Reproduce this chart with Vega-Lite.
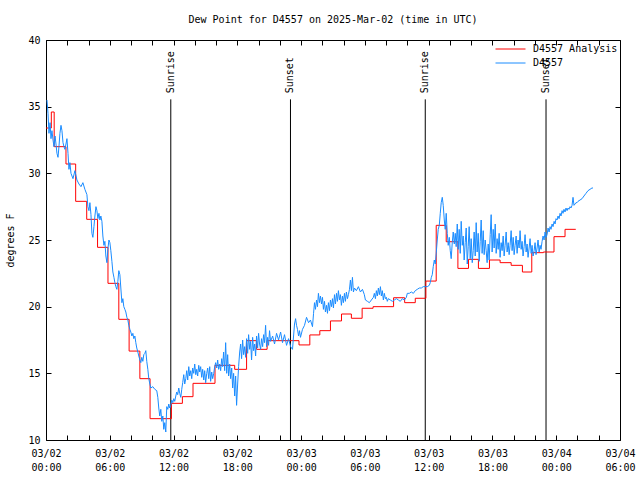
{
  "$schema": "https://vega.github.io/schema/vega-lite/v6.json",
  "width": 574,
  "height": 400,
  "autosize": {"type": "none"},
  "padding": {"left": 46, "top": 40, "right": 20, "bottom": 40},
  "background": "white",
  "title": {"text": "Dew Point for D4557 on 2025-Mar-02 (time in UTC)", "font": "DejaVu Sans Mono", "fontSize": 10, "fontWeight": "normal", "anchor": "middle", "offset": 10, "color": "black"},
  "config": {
    "view": {"stroke": "black", "strokeWidth": 1},
    "axis": {"grid": false, "domain": false, "ticks": true, "tickColor": "black", "tickSize": 5, "tickWidth": 1, "offset": -5, "zindex": 1, "labelFont": "DejaVu Sans Mono", "labelFontSize": 10, "labelColor": "black", "titleFont": "DejaVu Sans Mono", "titleFontSize": 10, "titleFontWeight": "normal", "titleColor": "black", "labelOverlap": false, "labelFlush": false},
    "legend": {"labelFont": "DejaVu Sans Mono", "labelFontSize": 10, "labelColor": "black"}
  },
  "datasets": {
    "analysis": [
      {"hour": 0.0, "dwpf": 33.4}, {"hour": 0.5, "dwpf": 34.6}, {"hour": 0.77, "dwpf": 32.0}, {"hour": 1.88, "dwpf": 30.7},
      {"hour": 2.79, "dwpf": 27.9}, {"hour": 3.83, "dwpf": 26.55}, {"hour": 4.85, "dwpf": 24.45}, {"hour": 5.83, "dwpf": 21.75},
      {"hour": 6.85, "dwpf": 19.05}, {"hour": 7.82, "dwpf": 16.67}, {"hour": 8.83, "dwpf": 14.6}, {"hour": 9.79, "dwpf": 11.6},
      {"hour": 11.8, "dwpf": 12.75}, {"hour": 12.83, "dwpf": 13.25}, {"hour": 13.83, "dwpf": 14.25}, {"hour": 15.9, "dwpf": 15.6},
      {"hour": 17.75, "dwpf": 15.3}, {"hour": 18.87, "dwpf": 17.45}, {"hour": 19.81, "dwpf": 16.8}, {"hour": 20.8, "dwpf": 17.45},
      {"hour": 23.8, "dwpf": 17.13}, {"hour": 24.82, "dwpf": 17.88}, {"hour": 25.76, "dwpf": 18.2}, {"hour": 26.76, "dwpf": 18.93},
      {"hour": 27.8, "dwpf": 19.45}, {"hour": 28.73, "dwpf": 19.13}, {"hour": 29.74, "dwpf": 19.88}, {"hour": 30.77, "dwpf": 20.0},
      {"hour": 32.7, "dwpf": 20.67}, {"hour": 33.74, "dwpf": 20.3}, {"hour": 34.74, "dwpf": 20.63}, {"hour": 35.74, "dwpf": 21.92},
      {"hour": 36.71, "dwpf": 26.1}, {"hour": 37.65, "dwpf": 24.87}, {"hour": 38.75, "dwpf": 22.87}, {"hour": 39.75, "dwpf": 23.55},
      {"hour": 40.68, "dwpf": 22.87}, {"hour": 41.72, "dwpf": 23.5}, {"hour": 42.72, "dwpf": 23.3}, {"hour": 43.76, "dwpf": 23.1},
      {"hour": 44.82, "dwpf": 22.6}, {"hour": 45.7, "dwpf": 24.05}, {"hour": 46.79, "dwpf": 24.1}, {"hour": 47.79, "dwpf": 25.25},
      {"hour": 48.83, "dwpf": 25.8}, {"hour": 49.84, "dwpf": 25.8}
    ],
    "obs": [
      {"hour": 0.09, "dwpf": 35.5}, {"hour": 0.19, "dwpf": 34.5}, {"hour": 0.28, "dwpf": 33.0}, {"hour": 0.38, "dwpf": 33.8},
      {"hour": 0.47, "dwpf": 32.6}, {"hour": 0.56, "dwpf": 33.2}, {"hour": 0.66, "dwpf": 32.5}, {"hour": 0.75, "dwpf": 32.0},
      {"hour": 0.85, "dwpf": 32.8}, {"hour": 0.94, "dwpf": 32.2}, {"hour": 1.03, "dwpf": 31.5}, {"hour": 1.13, "dwpf": 31.2},
      {"hour": 1.22, "dwpf": 32.0}, {"hour": 1.31, "dwpf": 33.0}, {"hour": 1.41, "dwpf": 33.6}, {"hour": 1.5, "dwpf": 33.2},
      {"hour": 1.6, "dwpf": 32.3}, {"hour": 1.69, "dwpf": 32.0}, {"hour": 1.78, "dwpf": 31.8}, {"hour": 1.88, "dwpf": 32.2},
      {"hour": 1.97, "dwpf": 32.6}, {"hour": 2.07, "dwpf": 31.5}, {"hour": 2.16, "dwpf": 30.3}, {"hour": 2.25, "dwpf": 30.8},
      {"hour": 2.35, "dwpf": 30.0}, {"hour": 2.54, "dwpf": 29.6}, {"hour": 2.72, "dwpf": 30.2}, {"hour": 2.91, "dwpf": 29.5},
      {"hour": 3.1, "dwpf": 29.2}, {"hour": 3.29, "dwpf": 29.0}, {"hour": 3.47, "dwpf": 29.3}, {"hour": 3.66, "dwpf": 28.8},
      {"hour": 3.85, "dwpf": 28.4}, {"hour": 3.94, "dwpf": 27.5}, {"hour": 4.04, "dwpf": 27.2}, {"hour": 4.13, "dwpf": 27.8},
      {"hour": 4.23, "dwpf": 26.9}, {"hour": 4.32, "dwpf": 25.5}, {"hour": 4.41, "dwpf": 25.2}, {"hour": 4.51, "dwpf": 26.0},
      {"hour": 4.6, "dwpf": 26.8}, {"hour": 4.7, "dwpf": 27.5}, {"hour": 4.79, "dwpf": 27.2}, {"hour": 4.88, "dwpf": 26.6},
      {"hour": 4.98, "dwpf": 27.0}, {"hour": 5.07, "dwpf": 26.5}, {"hour": 5.16, "dwpf": 26.8}, {"hour": 5.26, "dwpf": 26.4},
      {"hour": 5.35, "dwpf": 25.3}, {"hour": 5.45, "dwpf": 24.6}, {"hour": 5.54, "dwpf": 24.9}, {"hour": 5.63, "dwpf": 23.8},
      {"hour": 5.73, "dwpf": 23.3}, {"hour": 5.82, "dwpf": 24.3}, {"hour": 5.92, "dwpf": 25.0}, {"hour": 6.01, "dwpf": 24.8},
      {"hour": 6.1, "dwpf": 24.2}, {"hour": 6.2, "dwpf": 23.4}, {"hour": 6.29, "dwpf": 22.6}, {"hour": 6.39, "dwpf": 22.2},
      {"hour": 6.48, "dwpf": 21.8}, {"hour": 6.57, "dwpf": 21.5}, {"hour": 6.67, "dwpf": 21.3}, {"hour": 6.76, "dwpf": 21.9},
      {"hour": 6.85, "dwpf": 22.7}, {"hour": 6.95, "dwpf": 22.4}, {"hour": 7.04, "dwpf": 21.4}, {"hour": 7.14, "dwpf": 20.3},
      {"hour": 7.23, "dwpf": 20.6}, {"hour": 7.32, "dwpf": 20.0}, {"hour": 7.42, "dwpf": 19.8}, {"hour": 7.51, "dwpf": 19.6},
      {"hour": 7.61, "dwpf": 19.2}, {"hour": 7.7, "dwpf": 19.0}, {"hour": 7.79, "dwpf": 18.6}, {"hour": 7.89, "dwpf": 18.3},
      {"hour": 7.98, "dwpf": 18.1}, {"hour": 8.08, "dwpf": 17.8}, {"hour": 8.17, "dwpf": 18.0}, {"hour": 8.26, "dwpf": 17.6},
      {"hour": 8.36, "dwpf": 17.8}, {"hour": 8.45, "dwpf": 17.3}, {"hour": 8.54, "dwpf": 16.9}, {"hour": 8.64, "dwpf": 16.6},
      {"hour": 8.73, "dwpf": 16.3}, {"hour": 8.83, "dwpf": 16.0}, {"hour": 8.92, "dwpf": 15.8}, {"hour": 9.01, "dwpf": 16.2},
      {"hour": 9.11, "dwpf": 15.9}, {"hour": 9.2, "dwpf": 16.4}, {"hour": 9.3, "dwpf": 16.5}, {"hour": 9.39, "dwpf": 16.7},
      {"hour": 9.48, "dwpf": 15.9}, {"hour": 9.58, "dwpf": 15.3}, {"hour": 9.67, "dwpf": 14.6}, {"hour": 9.77, "dwpf": 14.2},
      {"hour": 9.86, "dwpf": 13.9}, {"hour": 10.05, "dwpf": 14.0}, {"hour": 10.24, "dwpf": 13.8}, {"hour": 10.42, "dwpf": 13.7},
      {"hour": 10.52, "dwpf": 13.2}, {"hour": 10.61, "dwpf": 12.4}, {"hour": 10.7, "dwpf": 11.8}, {"hour": 10.8, "dwpf": 12.3},
      {"hour": 10.89, "dwpf": 11.4}, {"hour": 10.99, "dwpf": 11.8}, {"hour": 11.08, "dwpf": 10.8}, {"hour": 11.17, "dwpf": 11.3},
      {"hour": 11.27, "dwpf": 10.6}, {"hour": 11.36, "dwpf": 12.5}, {"hour": 11.46, "dwpf": 12.3}, {"hour": 11.55, "dwpf": 12.7},
      {"hour": 11.64, "dwpf": 12.4}, {"hour": 11.74, "dwpf": 12.6}, {"hour": 11.83, "dwpf": 13.0}, {"hour": 11.93, "dwpf": 12.8},
      {"hour": 12.02, "dwpf": 13.1}, {"hour": 12.11, "dwpf": 12.9}, {"hour": 12.21, "dwpf": 13.3}, {"hour": 12.3, "dwpf": 13.6},
      {"hour": 12.39, "dwpf": 13.4}, {"hour": 12.49, "dwpf": 13.9}, {"hour": 12.58, "dwpf": 13.5}, {"hour": 12.68, "dwpf": 13.2},
      {"hour": 12.77, "dwpf": 13.8}, {"hour": 12.86, "dwpf": 14.3}, {"hour": 12.96, "dwpf": 14.9}, {"hour": 13.05, "dwpf": 14.2},
      {"hour": 13.15, "dwpf": 14.6}, {"hour": 13.24, "dwpf": 15.2}, {"hour": 13.33, "dwpf": 14.5}, {"hour": 13.43, "dwpf": 15.5},
      {"hour": 13.52, "dwpf": 14.8}, {"hour": 13.62, "dwpf": 15.2}, {"hour": 13.71, "dwpf": 14.6}, {"hour": 13.8, "dwpf": 15.4},
      {"hour": 13.9, "dwpf": 15.0}, {"hour": 13.99, "dwpf": 15.7}, {"hour": 14.09, "dwpf": 14.9}, {"hour": 14.18, "dwpf": 15.3},
      {"hour": 14.27, "dwpf": 14.8}, {"hour": 14.37, "dwpf": 15.6}, {"hour": 14.46, "dwpf": 15.1}, {"hour": 14.55, "dwpf": 15.5},
      {"hour": 14.65, "dwpf": 14.7}, {"hour": 14.74, "dwpf": 15.3}, {"hour": 14.84, "dwpf": 14.5}, {"hour": 14.93, "dwpf": 15.2},
      {"hour": 15.02, "dwpf": 14.3}, {"hour": 15.12, "dwpf": 15.0}, {"hour": 15.21, "dwpf": 15.4}, {"hour": 15.31, "dwpf": 14.6},
      {"hour": 15.4, "dwpf": 15.5}, {"hour": 15.49, "dwpf": 14.4}, {"hour": 15.59, "dwpf": 15.1}, {"hour": 15.68, "dwpf": 14.6},
      {"hour": 15.78, "dwpf": 15.0}, {"hour": 15.87, "dwpf": 15.5}, {"hour": 15.96, "dwpf": 15.8}, {"hour": 16.06, "dwpf": 15.4},
      {"hour": 16.15, "dwpf": 16.0}, {"hour": 16.24, "dwpf": 15.3}, {"hour": 16.34, "dwpf": 15.7}, {"hour": 16.43, "dwpf": 15.2},
      {"hour": 16.53, "dwpf": 16.1}, {"hour": 16.62, "dwpf": 15.5}, {"hour": 16.71, "dwpf": 16.6}, {"hour": 16.81, "dwpf": 15.2},
      {"hour": 16.9, "dwpf": 17.3}, {"hour": 17.0, "dwpf": 15.0}, {"hour": 17.09, "dwpf": 16.4}, {"hour": 17.18, "dwpf": 14.8},
      {"hour": 17.28, "dwpf": 15.7}, {"hour": 17.37, "dwpf": 14.6}, {"hour": 17.47, "dwpf": 15.4}, {"hour": 17.56, "dwpf": 13.9},
      {"hour": 17.65, "dwpf": 15.0}, {"hour": 17.75, "dwpf": 13.3}, {"hour": 17.84, "dwpf": 14.8}, {"hour": 17.93, "dwpf": 12.6},
      {"hour": 18.03, "dwpf": 14.2}, {"hour": 18.12, "dwpf": 15.5}, {"hour": 18.22, "dwpf": 16.6}, {"hour": 18.31, "dwpf": 17.2},
      {"hour": 18.4, "dwpf": 16.1}, {"hour": 18.5, "dwpf": 17.5}, {"hour": 18.59, "dwpf": 16.4}, {"hour": 18.69, "dwpf": 17.0},
      {"hour": 18.78, "dwpf": 16.2}, {"hour": 18.87, "dwpf": 17.6}, {"hour": 18.97, "dwpf": 16.5}, {"hour": 19.06, "dwpf": 17.9},
      {"hour": 19.16, "dwpf": 16.8}, {"hour": 19.25, "dwpf": 17.4}, {"hour": 19.34, "dwpf": 16.0}, {"hour": 19.44, "dwpf": 17.7},
      {"hour": 19.53, "dwpf": 16.7}, {"hour": 19.63, "dwpf": 17.2}, {"hour": 19.72, "dwpf": 16.3}, {"hour": 19.81, "dwpf": 17.8},
      {"hour": 19.91, "dwpf": 16.9}, {"hour": 20.0, "dwpf": 18.0}, {"hour": 20.09, "dwpf": 17.2}, {"hour": 20.19, "dwpf": 16.8},
      {"hour": 20.28, "dwpf": 17.6}, {"hour": 20.38, "dwpf": 17.0}, {"hour": 20.47, "dwpf": 17.9}, {"hour": 20.56, "dwpf": 17.3},
      {"hour": 20.66, "dwpf": 18.6}, {"hour": 20.75, "dwpf": 17.0}, {"hour": 20.85, "dwpf": 17.7}, {"hour": 20.94, "dwpf": 17.1},
      {"hour": 21.03, "dwpf": 18.2}, {"hour": 21.13, "dwpf": 17.4}, {"hour": 21.32, "dwpf": 17.8}, {"hour": 21.5, "dwpf": 17.2},
      {"hour": 21.69, "dwpf": 18.0}, {"hour": 21.88, "dwpf": 17.5}, {"hour": 22.07, "dwpf": 18.1}, {"hour": 22.25, "dwpf": 17.3},
      {"hour": 22.44, "dwpf": 17.9}, {"hour": 22.63, "dwpf": 17.1}, {"hour": 22.82, "dwpf": 17.6}, {"hour": 23.01, "dwpf": 17.0},
      {"hour": 23.19, "dwpf": 16.8}, {"hour": 23.29, "dwpf": 17.8}, {"hour": 23.38, "dwpf": 18.7}, {"hour": 23.48, "dwpf": 19.1},
      {"hour": 23.57, "dwpf": 18.6}, {"hour": 23.66, "dwpf": 18.3}, {"hour": 23.76, "dwpf": 17.8}, {"hour": 23.85, "dwpf": 18.2},
      {"hour": 23.94, "dwpf": 17.7}, {"hour": 24.13, "dwpf": 18.3}, {"hour": 24.32, "dwpf": 18.6}, {"hour": 24.51, "dwpf": 19.2},
      {"hour": 24.7, "dwpf": 18.8}, {"hour": 24.88, "dwpf": 19.0}, {"hour": 25.07, "dwpf": 18.5}, {"hour": 25.17, "dwpf": 19.5},
      {"hour": 25.26, "dwpf": 20.3}, {"hour": 25.35, "dwpf": 19.8}, {"hour": 25.45, "dwpf": 20.5}, {"hour": 25.54, "dwpf": 20.0},
      {"hour": 25.63, "dwpf": 21.0}, {"hour": 25.73, "dwpf": 20.3}, {"hour": 25.82, "dwpf": 20.8}, {"hour": 25.92, "dwpf": 20.2},
      {"hour": 26.01, "dwpf": 20.7}, {"hour": 26.1, "dwpf": 19.8}, {"hour": 26.2, "dwpf": 20.4}, {"hour": 26.29, "dwpf": 19.6},
      {"hour": 26.39, "dwpf": 20.1}, {"hour": 26.48, "dwpf": 19.5}, {"hour": 26.57, "dwpf": 20.3}, {"hour": 26.67, "dwpf": 19.7},
      {"hour": 26.76, "dwpf": 20.5}, {"hour": 26.86, "dwpf": 20.0}, {"hour": 26.95, "dwpf": 20.6}, {"hour": 27.04, "dwpf": 19.9},
      {"hour": 27.14, "dwpf": 20.9}, {"hour": 27.23, "dwpf": 20.2}, {"hour": 27.33, "dwpf": 21.0}, {"hour": 27.42, "dwpf": 20.4},
      {"hour": 27.51, "dwpf": 21.2}, {"hour": 27.61, "dwpf": 20.5}, {"hour": 27.7, "dwpf": 20.9}, {"hour": 27.79, "dwpf": 20.1},
      {"hour": 27.89, "dwpf": 20.8}, {"hour": 27.98, "dwpf": 20.3}, {"hour": 28.08, "dwpf": 21.0}, {"hour": 28.17, "dwpf": 20.4},
      {"hour": 28.26, "dwpf": 21.1}, {"hour": 28.36, "dwpf": 20.6}, {"hour": 28.45, "dwpf": 20.9}, {"hour": 28.55, "dwpf": 21.3},
      {"hour": 28.64, "dwpf": 22.0}, {"hour": 28.73, "dwpf": 21.2}, {"hour": 28.83, "dwpf": 22.2}, {"hour": 28.92, "dwpf": 21.1},
      {"hour": 29.02, "dwpf": 21.4}, {"hour": 29.2, "dwpf": 21.2}, {"hour": 29.39, "dwpf": 21.5}, {"hour": 29.58, "dwpf": 21.1},
      {"hour": 29.77, "dwpf": 21.3}, {"hour": 29.95, "dwpf": 20.9}, {"hour": 30.05, "dwpf": 20.5}, {"hour": 30.24, "dwpf": 20.4},
      {"hour": 30.42, "dwpf": 20.3}, {"hour": 30.61, "dwpf": 20.5}, {"hour": 30.8, "dwpf": 20.7}, {"hour": 30.89, "dwpf": 21.0},
      {"hour": 30.99, "dwpf": 20.6}, {"hour": 31.08, "dwpf": 21.2}, {"hour": 31.17, "dwpf": 20.8}, {"hour": 31.27, "dwpf": 21.4},
      {"hour": 31.36, "dwpf": 20.9}, {"hour": 31.46, "dwpf": 21.5}, {"hour": 31.55, "dwpf": 20.8}, {"hour": 31.64, "dwpf": 21.2},
      {"hour": 31.74, "dwpf": 20.5}, {"hour": 31.83, "dwpf": 21.0}, {"hour": 31.93, "dwpf": 20.6}, {"hour": 32.02, "dwpf": 20.7},
      {"hour": 32.11, "dwpf": 20.4}, {"hour": 32.21, "dwpf": 20.6}, {"hour": 32.4, "dwpf": 20.5}, {"hour": 32.58, "dwpf": 20.4},
      {"hour": 32.77, "dwpf": 20.5}, {"hour": 32.96, "dwpf": 20.6}, {"hour": 33.15, "dwpf": 20.5}, {"hour": 33.33, "dwpf": 20.4},
      {"hour": 33.52, "dwpf": 20.6}, {"hour": 33.71, "dwpf": 20.5}, {"hour": 33.9, "dwpf": 20.7}, {"hour": 33.99, "dwpf": 21.0},
      {"hour": 34.18, "dwpf": 21.0}, {"hour": 34.37, "dwpf": 21.1}, {"hour": 34.56, "dwpf": 21.0}, {"hour": 34.74, "dwpf": 21.2},
      {"hour": 34.93, "dwpf": 21.3}, {"hour": 35.12, "dwpf": 21.4}, {"hour": 35.31, "dwpf": 21.4}, {"hour": 35.49, "dwpf": 21.5},
      {"hour": 35.68, "dwpf": 21.5}, {"hour": 35.87, "dwpf": 21.5}, {"hour": 36.06, "dwpf": 21.6}, {"hour": 36.15, "dwpf": 21.8},
      {"hour": 36.25, "dwpf": 22.2}, {"hour": 36.34, "dwpf": 22.4}, {"hour": 36.43, "dwpf": 23.0}, {"hour": 36.53, "dwpf": 23.5},
      {"hour": 36.62, "dwpf": 23.2}, {"hour": 36.71, "dwpf": 24.0}, {"hour": 36.81, "dwpf": 25.0}, {"hour": 36.9, "dwpf": 25.8},
      {"hour": 37.0, "dwpf": 26.1}, {"hour": 37.09, "dwpf": 27.0}, {"hour": 37.18, "dwpf": 27.8}, {"hour": 37.28, "dwpf": 28.2},
      {"hour": 37.37, "dwpf": 27.6}, {"hour": 37.47, "dwpf": 26.5}, {"hour": 37.56, "dwpf": 25.8}, {"hour": 37.65, "dwpf": 27.0},
      {"hour": 37.75, "dwpf": 25.5}, {"hour": 37.84, "dwpf": 24.6}, {"hour": 37.94, "dwpf": 25.2}, {"hour": 38.03, "dwpf": 24.2},
      {"hour": 38.12, "dwpf": 23.6}, {"hour": 38.22, "dwpf": 24.8}, {"hour": 38.31, "dwpf": 25.6}, {"hour": 38.41, "dwpf": 24.7},
      {"hour": 38.5, "dwpf": 25.5}, {"hour": 38.59, "dwpf": 24.5}, {"hour": 38.69, "dwpf": 26.2}, {"hour": 38.78, "dwpf": 24.3},
      {"hour": 38.87, "dwpf": 25.8}, {"hour": 38.97, "dwpf": 24.0}, {"hour": 39.06, "dwpf": 26.4}, {"hour": 39.16, "dwpf": 24.6},
      {"hour": 39.25, "dwpf": 25.3}, {"hour": 39.34, "dwpf": 23.5}, {"hour": 39.44, "dwpf": 24.8}, {"hour": 39.53, "dwpf": 25.9},
      {"hour": 39.63, "dwpf": 23.2}, {"hour": 39.72, "dwpf": 24.5}, {"hour": 39.81, "dwpf": 26.0}, {"hour": 39.91, "dwpf": 23.6},
      {"hour": 40.0, "dwpf": 25.1}, {"hour": 40.1, "dwpf": 23.3}, {"hour": 40.19, "dwpf": 24.2}, {"hour": 40.28, "dwpf": 25.6},
      {"hour": 40.38, "dwpf": 23.8}, {"hour": 40.47, "dwpf": 26.3}, {"hour": 40.56, "dwpf": 24.1}, {"hour": 40.66, "dwpf": 25.5},
      {"hour": 40.75, "dwpf": 23.4}, {"hour": 40.85, "dwpf": 24.9}, {"hour": 40.94, "dwpf": 26.5}, {"hour": 41.03, "dwpf": 24.0},
      {"hour": 41.13, "dwpf": 25.7}, {"hour": 41.22, "dwpf": 23.9}, {"hour": 41.32, "dwpf": 25.0}, {"hour": 41.41, "dwpf": 24.2},
      {"hour": 41.5, "dwpf": 23.3}, {"hour": 41.6, "dwpf": 24.7}, {"hour": 41.69, "dwpf": 23.5}, {"hour": 41.79, "dwpf": 25.4},
      {"hour": 41.88, "dwpf": 26.9}, {"hour": 41.97, "dwpf": 24.1}, {"hour": 42.07, "dwpf": 25.8}, {"hour": 42.16, "dwpf": 24.4},
      {"hour": 42.26, "dwpf": 26.2}, {"hour": 42.35, "dwpf": 24.0}, {"hour": 42.44, "dwpf": 25.1}, {"hour": 42.54, "dwpf": 24.3},
      {"hour": 42.63, "dwpf": 25.5}, {"hour": 42.72, "dwpf": 23.7}, {"hour": 42.82, "dwpf": 24.8}, {"hour": 42.91, "dwpf": 24.2},
      {"hour": 43.01, "dwpf": 25.3}, {"hour": 43.1, "dwpf": 23.8}, {"hour": 43.19, "dwpf": 24.6}, {"hour": 43.29, "dwpf": 25.6},
      {"hour": 43.38, "dwpf": 24.1}, {"hour": 43.48, "dwpf": 24.8}, {"hour": 43.57, "dwpf": 23.9}, {"hour": 43.66, "dwpf": 24.6},
      {"hour": 43.76, "dwpf": 25.7}, {"hour": 43.85, "dwpf": 24.2}, {"hour": 43.95, "dwpf": 25.2}, {"hour": 44.04, "dwpf": 23.9},
      {"hour": 44.13, "dwpf": 24.6}, {"hour": 44.23, "dwpf": 25.3}, {"hour": 44.32, "dwpf": 24.0}, {"hour": 44.41, "dwpf": 25.0},
      {"hour": 44.51, "dwpf": 24.4}, {"hour": 44.6, "dwpf": 25.7}, {"hour": 44.7, "dwpf": 24.3}, {"hour": 44.79, "dwpf": 24.9},
      {"hour": 44.88, "dwpf": 23.8}, {"hour": 44.98, "dwpf": 24.5}, {"hour": 45.07, "dwpf": 25.4}, {"hour": 45.17, "dwpf": 24.1},
      {"hour": 45.26, "dwpf": 24.7}, {"hour": 45.35, "dwpf": 23.7}, {"hour": 45.45, "dwpf": 24.4}, {"hour": 45.54, "dwpf": 25.1},
      {"hour": 45.64, "dwpf": 24.0}, {"hour": 45.73, "dwpf": 24.6}, {"hour": 45.82, "dwpf": 23.8}, {"hour": 45.92, "dwpf": 24.2},
      {"hour": 46.01, "dwpf": 24.8}, {"hour": 46.1, "dwpf": 23.9}, {"hour": 46.2, "dwpf": 24.4}, {"hour": 46.29, "dwpf": 25.0},
      {"hour": 46.39, "dwpf": 24.1}, {"hour": 46.48, "dwpf": 24.6}, {"hour": 46.57, "dwpf": 24.3}, {"hour": 46.67, "dwpf": 24.9},
      {"hour": 46.76, "dwpf": 25.3}, {"hour": 46.86, "dwpf": 25.0}, {"hour": 46.95, "dwpf": 25.6}, {"hour": 47.04, "dwpf": 25.2},
      {"hour": 47.14, "dwpf": 25.4}, {"hour": 47.23, "dwpf": 25.9}, {"hour": 47.33, "dwpf": 25.6}, {"hour": 47.42, "dwpf": 26.0},
      {"hour": 47.51, "dwpf": 25.8}, {"hour": 47.61, "dwpf": 26.2}, {"hour": 47.7, "dwpf": 26.0}, {"hour": 47.8, "dwpf": 26.4},
      {"hour": 47.89, "dwpf": 26.2}, {"hour": 47.98, "dwpf": 26.6}, {"hour": 48.08, "dwpf": 26.5}, {"hour": 48.17, "dwpf": 26.8},
      {"hour": 48.27, "dwpf": 26.6}, {"hour": 48.36, "dwpf": 27.0}, {"hour": 48.45, "dwpf": 26.8}, {"hour": 48.55, "dwpf": 27.2},
      {"hour": 48.64, "dwpf": 27.0}, {"hour": 48.73, "dwpf": 27.3}, {"hour": 48.83, "dwpf": 27.1}, {"hour": 48.92, "dwpf": 27.4},
      {"hour": 49.02, "dwpf": 27.2}, {"hour": 49.11, "dwpf": 27.4}, {"hour": 49.2, "dwpf": 27.3}, {"hour": 49.3, "dwpf": 27.5},
      {"hour": 49.39, "dwpf": 27.4}, {"hour": 49.49, "dwpf": 27.6}, {"hour": 49.58, "dwpf": 28.2}, {"hour": 49.67, "dwpf": 27.6},
      {"hour": 49.77, "dwpf": 27.7}, {"hour": 49.86, "dwpf": 27.8}, {"hour": 49.96, "dwpf": 27.8}, {"hour": 50.05, "dwpf": 27.9},
      {"hour": 50.24, "dwpf": 28.0}, {"hour": 50.43, "dwpf": 28.1}, {"hour": 50.61, "dwpf": 28.3}, {"hour": 50.8, "dwpf": 28.5},
      {"hour": 50.99, "dwpf": 28.7}, {"hour": 51.18, "dwpf": 28.8}, {"hour": 51.36, "dwpf": 28.9}, {"hour": 51.46, "dwpf": 28.9}
    ],
    "sun": [
      {"hour": 11.74, "event": "Sunrise"},
      {"hour": 23.0, "event": "Sunset"},
      {"hour": 35.68, "event": "Sunrise"},
      {"hour": 47.04, "event": "Sunset"}
    ]
  },
  "layer": [
    {
      "data": {"name": "sun"},
      "mark": {"type": "rule", "color": "black", "strokeWidth": 1},
      "encoding": {
        "x": {"field": "hour", "type": "quantitative", "scale": {"domain": [0, 54], "nice": false, "zero": false}, "axis": null},
        "y": {"datum": 10, "type": "quantitative", "scale": {"domain": [10, 40], "nice": false, "zero": false}, "axis": null},
        "y2": {"datum": 35.55}
      }
    },
    {
      "data": {"name": "sun"},
      "mark": {"type": "text", "angle": 270, "align": "left", "baseline": "middle", "font": "DejaVu Sans Mono", "fontSize": 10, "color": "black"},
      "encoding": {
        "x": {"field": "hour", "type": "quantitative", "axis": null},
        "y": {"datum": 36.0, "type": "quantitative", "axis": null},
        "text": {"field": "event"}
      }
    },
    {
      "data": {"name": "analysis"},
      "mark": {"type": "line", "interpolate": "step-after", "strokeWidth": 1},
      "encoding": {
        "x": {"field": "hour", "type": "quantitative",
          "axis": {"orient": "bottom", "title": null,
            "values": [0, 2, 4, 6, 8, 10, 12, 14, 16, 18, 20, 22, 24, 26, 28, 30, 32, 34, 36, 38, 40, 42, 44, 46, 48, 50, 52, 54],
            "labelExpr": "datum.value % 6 == 0 ? [(datum.value < 24 ? '03/02' : (datum.value < 48 ? '03/03' : '03/04')), ((datum.value % 24) < 10 ? '0' : '') + (datum.value % 24) + ':00'] : ''",
            "labelPadding": 8, "labelLineHeight": 14, "labelBaseline": "top"}},
        "y": {"field": "dwpf", "type": "quantitative",
          "axis": {"orient": "left", "title": "degrees F", "values": [10, 15, 20, 25, 30, 35, 40], "labelPadding": 6, "titlePadding": 12}},
        "color": {"datum": "D4557 Analysis", "type": "nominal",
          "scale": {"domain": ["D4557 Analysis", "D4557"], "range": ["#ff0000", "#1a8cff"]},
          "legend": {"orient": "top-right", "direction": "vertical", "title": null, "symbolType": "stroke", "symbolSize": 900, "symbolStrokeWidth": 1, "labelOffset": 7, "clipHeight": 14, "rowPadding": 0, "padding": 0, "offset": 2}}
      }
    },
    {
      "data": {"name": "obs"},
      "mark": {"type": "line", "strokeWidth": 1},
      "encoding": {
        "x": {"field": "hour", "type": "quantitative",
          "axis": {"orient": "top", "title": null, "labels": false,
            "values": [0, 2, 4, 6, 8, 10, 12, 14, 16, 18, 20, 22, 24, 26, 28, 30, 32, 34, 36, 38, 40, 42, 44, 46, 48, 50, 52, 54]}},
        "y": {"field": "dwpf", "type": "quantitative",
          "axis": {"orient": "right", "title": null, "labels": false, "values": [10, 15, 20, 25, 30, 35, 40]}},
        "color": {"datum": "D4557", "type": "nominal"}
      }
    }
  ],
  "resolve": {"axis": {"x": "independent", "y": "independent"}}
}
